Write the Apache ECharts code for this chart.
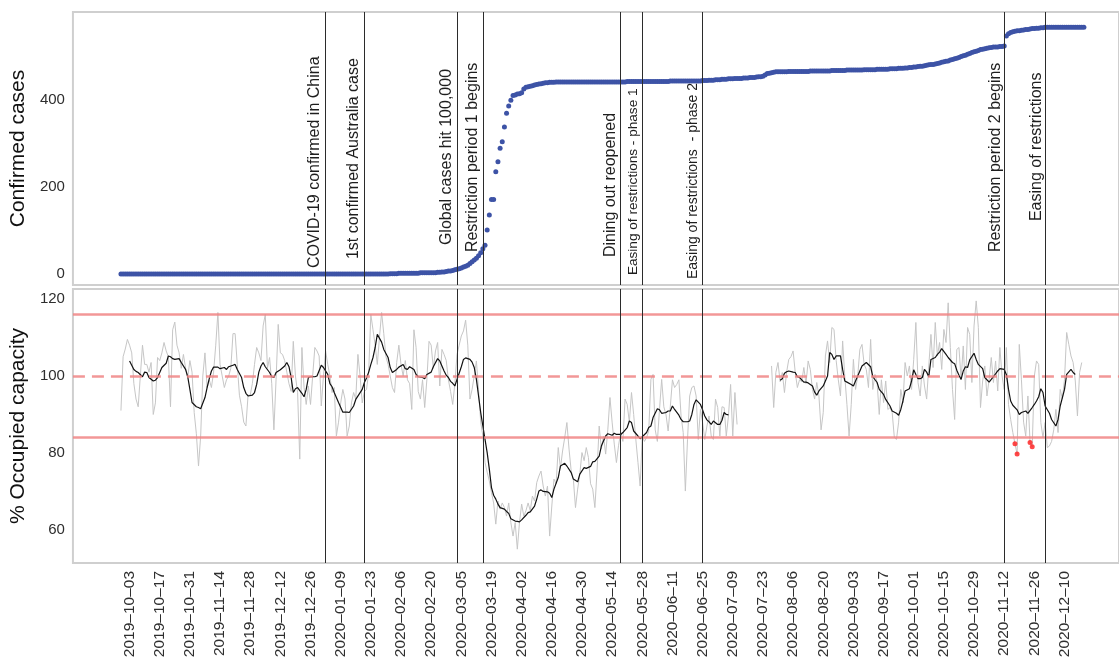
<!DOCTYPE html>
<html>
<head>
<meta charset="utf-8">
<script src="https://cdn.jsdelivr.net/npm/echarts@6/dist/echarts.min.js"></script>
<style>
  html, body { margin: 0; padding: 0; background: #ffffff; }
  #chart { width: 1119px; height: 662px; }
</style>
</head>
<body>
<div id="chart"></div>
<script>
// ---- Data -------------------------------------------------------------

// Daily series start on this date (one value per day).
const seriesStart = '2019-09-29';

// Cumulative confirmed cases, one value per day from seriesStart.
const confirmedCases = [
  0,0,0,0,0,0,0,0,0,0, 0,0,0,0,0,0,0,0,0,0, 0,0,0,0,0,0,0,0,0,0,
  0,0,0,0,0,0,0,0,0,0, 0,0,0,0,0,0,0,0,0,0, 0,0,0,0,0,0,0,0,0,0,
  0,0,0,0,0,0,0,0,0,0, 0,0,0,0,0,0,0,0,0,0, 0,0,0,0,0,0,0,0,0,0,
  0,0,0,0,0,0,0,0,0,0, 0,0,0,0,0,0,0,0,0,0, 0,0,0,0,0,0,0,0,0,0,
  0,0,0,0,0,
  1,1,1,1,2,2,2,2,2,2,2,2,2,2,3,3,3,3,3,3,
  3,3,4,4,5,5,6,7,7,8,
  10,11,12,14,16,18,20,24,28,32,36,42,49,
  58,66,101,135,171,171,234,257,288,303,337,368,385,398,409,410,412,
  413,415,424,428,429,430,431,433,434,435,436,437,438,438,439,439,439,440,440,
  440,440,440,440,440,440,440,440,440,440,440,440,440,440,440,440,440,440,440,440,440,440,440,440,440,440,440,440,440,440,440,
  441,441,441,441,441,441,441,441,441,441,441,441,441,441,441,441,441,441,441,441,
  442,442,442,442,442,442,442,442,442,442,442,442,442,442,442,
  443,443,443,444,444,444,445,445,445,446,446,446,447,447,447,448,448,448,448,449,449,449,450,450,450,
  451,452,452,453,456,459,460,461,462,463,
  463,463,463,463,463,
  464,464,464,464,464,464,464,464,464,464,
  465,465,465,465,465,465,465,465,465,465,
  466,466,466,466,466,466,466,
  467,467,467,467,467,467,467,467,
  468,468,468,468,468,468,
  469,469,469,469,469,469,
  470,470,470,470,
  471,471,471,
  472,
  472,473,473,474,474,475,476,476,477,478,479,480,480,481,482,
  483,485,486,487,488,490,491,493,494,496,498,500,501,503,505,507,509,510,512,514,
  515,516,517,518,519,520,520,520,521,521,
  522,545,550,553,555,556,557,557,558,559,560,560,561,562,562,
  563,563,564,564,565,565,565,565,565,565,565,565,565,565,565,565,565,565,565,565,565,565,565
];

// Daily % occupied capacity from seriesStart (null = no record).
const occupancy = [
  91,105,107,109.5,108,106,98,94,92,100,
  108,103,103,101,103.5,90,93,104.8,104,106,
  108.7,106.5,105,92,112,114,108,106,102,105.6,
  102,99.6,104,101,90.5,85,76.6,84.4,100,106,
  97,99,97,101,108,116.5,103,100,97,99,
  100,102,111,111,103,95,92,88,87,95,
  95,98,103,107.4,106,104,113,116,102,104.8,
  98,86,99,113.4,106,105.6,104,101,98,96,
  109,100,95.7,78.4,107.4,97,92.6,97.4,92.6,100,
  107.4,106.5,105.2,92.2,100,106.5,103,100,95.7,97,
  84.4,88,93,96.5,94,84.4,87,93,95.7,94,
  105.6,100,93,96,96.5,101,116,112,108,103,
  110,116.5,111,105,103,100,97,95.7,103.5,108,
  103,100,104,99,98,91.3,112,107.4,96,94,
  99,91.8,99,109,108,102,106.5,108.7,97.4,106.9,
  105.6,104,99,96,92.6,98,105.6,108,110.4,111.7,
  114.5,108,94,96.5,100,103.9,96.5,88,84.4,77.5,
  75,72.7,69.7,67,61.5,67.5,65.4,67,65.8,63.6,
  67,61.9,58.4,61.9,55,62,66.7,63.6,65,67,
  65,68.8,67.5,72.3,74,75.3,71.4,68.8,71.4,58.4,
  66.2,73.2,72,81.4,76,80.5,84,87.9,81,75.3,
  73.2,65.8,70.6,74.5,80.1,78,81.4,78.8,72,70.6,
  65.8,75.3,87,81,84.4,79.7,86,94.4,88,82.3,
  77.5,82,85.3,83,94,92.6,88,95.7,90,83.5,
  77.5,71.4,84.4,83,84,85.7,99.1,100.4,86,83,
  91.3,99.1,92,90,85.7,92,99,97,97.8,99,
  89.6,85.3,70.1,83.5,94.8,97,97.4,94.8,83.5,91.3,
  87.9,83.5,87,89.6,84.4,83.5,94,91.8,84.4,92,
  91.8,84.4,89.6,97.8,84.4,95.7,87.4,
  null,null,null,null,null,null,null,null,null,null,null,null,null,null,null,
  102.6,91.8,100.9,103.5,98.5,100.9,95.7,101,104.3,105,
  106.5,101,97,99,98.5,102.2,98,103.9,101.7,96.5,
  94,98.3,94.8,86,90.5,105.2,109.1,103.5,112.6,112.1,
  104,99,94.8,109.1,100,92.6,84.4,92.6,104.3,96.5,
  100,106.9,108.2,103,101.7,97,109.5,96.5,100.4,98.3,
  90,99,93.1,98.7,91.3,91.8,90.5,84,83.5,88,
  96.5,93,103.5,100,102.6,96.5,104.3,113.9,98.3,94.8,
  102.6,97.4,94,102.6,110.8,102.2,113.9,105.2,108.7,101.7,
  112.1,108.7,119,107.4,96.5,88.7,106.9,107.4,99.1,107.8,
  96.5,112.6,110.8,98.3,113,119.5,112.6,91.8,98.7,102.6,
  94.8,99.1,104.8,98.3,103.9,96.1,107.4,100,96.5,107.4,
  92.6,88.7,85.3,82.4,79.7,108.2,99,88,84.4,94.8,
  82.7,81.6,100,103.9,103,87.9,84,87.9,81.4,81.8,
  83,86,91.3,85.3,96.5,94,99.1,111.3,108.2,105.2,
  103.5,98.7,89.6,100.9,103.5
];

// Days (counted from seriesStart) whose occupancy fell below the lower limit
// during the second restriction period.
const flaggedDays = [415, 416, 422, 423];

// Smoothed occupancy: [days since trendStart, value]; null marks the gap.
const trendStart = '2019-10-03';
const trendPoints = [
  [0,103.9],[2,101.7],[3,101.2],[4,100.9],[6,99.8],[7,101],[8,100.9],[9,99.6],[11,98.7],[12,98.9],
  [13,99.6],[15,102.2],[17,103.3],[18,105.2],[19,105],[20,104.5],[21,104.3],[23,104.5],[24,103.5],[26,101.7],
  [27,99.8],[28,96.5],[29,93.1],[31,92],[32,91.8],[33,91.5],[35,94.4],[36,97],[37,99.3],[38,101.3],
  [39,102.3],[41,102.3],[42,101.9],[44,102.2],[45,101.7],[46,102.4],[48,102.8],[49,103],[50,101.7],[52,99.6],
  [53,97],[54,95.5],[55,94.8],[57,95],[58,95.7],[59,97.8],[60,101],[61,102.6],[62,103.5],[63,102.4],
  [65,100.9],[66,99.8],[67,99.6],[68,100.9],[70,101.6],[72,102.6],[73,103.5],[74,102.4],[75,99.6],[76,95.7],
  [77,96.7],[78,97],[80,95.5],[81,94.6],[82,96.5],[83,99.6],[84,99.8],[86,99.8],[87,100],[89,102.8],
  [90,102.2],[92,100.4],[93,98],[94,97.2],[95,95.7],[97,93.1],[99,90.6],[101,90.6],[102,90.5],[104,92.2],
  [105,93.9],[108,96.5],[109,98.3],[110,99.5],[111,101],[112,103],[113,104.8],[114,107.4],[115,110.8],[117,108.8],
  [118,106.9],[120,104.8],[121,102.2],[122,100.9],[124,101.7],[125,102.3],[127,103],[128,101.9],[129,101.7],[130,102.4],
  [132,101.7],[133,100.4],[134,99.8],[136,99.6],[137,99.3],[138,100.4],[140,101],[141,102.4],[143,104.5],[144,103.9],
  [145,102.6],[146,101.3],[147,100.2],[148,99.6],[149,98.6],[150,98.1],[151,97.4],[152,99.1],[154,102.4],[155,104.3],
  [156,104.7],[158,104.3],[159,103.6],[160,102.2],[161,99.1],[162,94.8],[163,90.5],[164,87],[165,83.5],[166,80.1],
  [167,75.8],[168,71],[169,69],[170,68],[171,66.7],[172,65.8],[174,65.4],[175,64.8],[176,64.3],[177,62.9],
  [179,62.3],[180,62.2],[181,62.1],[182,62.6],[184,63.8],[185,64.5],[186,64.7],[188,66.2],[189,68],[190,70.1],
  [191,70.4],[192,70],[194,69.9],[195,69.5],[196,68.4],[197,70.6],[199,73.6],[200,76.6],[202,77.3],[203,76.6],
  [205,74.9],[206,73.2],[208,72.5],[209,74.5],[211,76.2],[212,76],[214,76.5],[215,77.7],[216,77.8],[218,79.2],
  [219,81.8],[221,84.4],[222,85],[224,84.6],[225,85.1],[226,84.8],[228,84.8],[229,85.3],[231,86.6],[232,88.3],
  [233,87.9],[234,85.7],[236,84.4],[237,83.7],[238,84.2],[240,85.3],[241,86.6],[242,87],[243,89.2],[245,91.5],
  [246,91.2],[247,90.3],[249,90.5],[250,90.9],[251,90.9],[252,92.2],[253,91.3],[255,89.8],[256,88.7],[257,88.1],
  [259,88.1],[260,88.3],[261,90],[262,92.6],[263,93.8],[265,92.6],[266,91.2],[267,89.6],[268,88.6],[269,88.1],
  [270,87.4],[271,88.3],[273,87.4],[274,87.4],[275,88.5],[276,90.5],[277,90],[278,89.9],
  [290,null],
  [302,98.9],[303,99.3],[304,100.7],[305,101.1],[306,101.3],[308,101],[309,100.9],[310,99.8],[311,99.6],[313,98.4],
  [314,98.4],[315,98.2],[317,97.4],[318,95.8],[319,95],[320,96.1],[322,97.4],[323,98.7],[324,100],[325,106.1],
  [326,105.6],[327,104.3],[328,105.2],[330,105.2],[331,101.7],[332,98.7],[333,98.4],[335,97.8],[336,97.4],[337,98.7],
  [339,101.3],[340,102.6],[342,103.5],[344,102.4],[345,99.8],[347,98.3],[348,96.5],[350,95.2],[351,93.9],[353,92.2],
  [354,90.9],[356,90.3],[357,89.8],[358,91.3],[359,93.5],[360,96.1],[362,96.7],[363,98.7],[364,101.6],[365,100.4],
  [366,99.3],[367,99.3],[368,99.6],[369,101.7],[370,101],[371,99.8],[372,104.3],[374,104.8],[375,105.6],[376,106.2],
  [377,107.1],[379,105.6],[380,104.8],[382,103.5],[383,103.2],[384,101.5],[385,100.2],[386,99.1],[387,101.3],[388,102.4],
  [389,102.2],[390,104.2],[392,105.9],[393,104.3],[394,103],[396,101.9],[397,99.6],[399,98.4],[400,99.1],[401,99.8],
  [403,101.3],[404,101.9],[406,101.7],[407,100.4],[408,96.5],[409,93.5],[410,92.4],[412,91.2],[413,90],[414,90.5],
  [416,90.9],[417,90.3],[419,91.8],[420,92.6],[421,93.5],[422,94.6],[423,96.7],[424,95.7],[425,92.2],[427,90.3],
  [428,88.7],[430,87],[431,88.7],[432,92.2],[434,96.5],[435,100.4],[437,101.7],[438,100.9],[439,100.4]
];

// Control limits for occupancy.
const upperLimit = 116;
const centreLine = 100;
const lowerLimit = 84;

// Key events.
const eventDates = ['2020-01-02', '2020-01-20', '2020-03-03', '2020-03-15', '2020-05-18',
                    '2020-05-28', '2020-06-25', '2020-11-12', '2020-12-01'];
const eventNames = ['COVID-19 confirmed in China', '1st confirmed Australia case',
                    'Global cases hit 100,000', 'Restriction period 1 begins',
                    'Dining out reopened', 'Easing of restrictions - phase 1',
                    'Easing of restrictions  - phase 2', 'Restriction period 2 begins',
                    'Easing of restrictions'];

// Date-axis tick labels (fortnightly).
const tickDates = ['2019-10-03','2019-10-17','2019-10-31','2019-11-14','2019-11-28','2019-12-12','2019-12-26',
                   '2020-01-09','2020-01-23','2020-02-06','2020-02-20','2020-03-05','2020-03-19','2020-04-02',
                   '2020-04-16','2020-04-30','2020-05-14','2020-05-28','2020-06-11','2020-06-25','2020-07-09',
                   '2020-07-23','2020-08-06','2020-08-20','2020-09-03','2020-09-17','2020-10-01','2020-10-15',
                   '2020-10-29','2020-11-12','2020-11-26','2020-12-10'];
const casesTicks = [0, 200, 400];
const occupancyTicks = [60, 80, 100, 120];

// ---- Helpers ----------------------------------------------------------
const DAY = 86400000;
function toTs(s) {
  const p = s.split('-').map(Number);
  return Date.UTC(p[0], p[1] - 1, p[2]);
}
const startTs = toTs(seriesStart);
const trendTs = toTs(trendStart);
function pad(n) { return (n < 10 ? '0' : '') + n; }
function fmtDate(v) {
  const d = new Date(v);
  return d.getUTCFullYear() + '\u2013' + pad(d.getUTCMonth() + 1) + '\u2013' + pad(d.getUTCDate());
}

const FONT = '"Liberation Sans", Arial, Helvetica, sans-serif';

const casesData = confirmedCases.map((v, i) => [startTs + i * DAY, v]);
const occupancyData = occupancy.map((v, i) => [startTs + i * DAY, v]);
const trendData = trendPoints.map(p => [trendTs + p[0] * DAY, p[1]]);
const flaggedData = flaggedDays.map(i => [startTs + i * DAY, occupancy[i]]);
const eventTs = eventDates.map(toTs);

// Visible date range of both panels (ms timestamps on a linear axis).
const xMin = Date.UTC(2019, 8, 6, 17);
const xMax = Date.UTC(2021, 0, 4, 7);

// Event label styling: font size, gap left of the line, rise above zero cases (px).
const eventLabelStyle = [
  { size: 16, gap: 11, rise: 6 },
  { size: 16, gap: 11, rise: 15 },
  { size: 16, gap: 10, rise: 29 },
  { size: 16, gap: 10, rise: 22 },
  { size: 16, gap: 10, rise: 17 },
  { size: 13.6, gap: 9, rise: -1 },
  { size: 14, gap: 9, rise: -5 },
  { size: 16, gap: 9, rise: 22 },
  { size: 16, gap: 9, rise: 53 }
];

function eventLine() {
  return {
    silent: true,
    symbol: ['none', 'none'],
    label: { show: false },
    lineStyle: { color: '#2b2b2b', width: 1, type: 'solid' },
    emphasis: { disabled: true },
    animation: false,
    data: eventTs.map(t => ({ xAxis: t }))
  };
}

function makeXAxis(gridIndex, showLabels) {
  return {
    type: 'value',
    gridIndex: gridIndex,
    min: xMin,
    max: xMax,
    scale: true,
    axisLine: { show: false },
    axisTick: { show: false },
    splitLine: { show: false },
    axisLabel: {
      show: showLabels,
      customValues: tickDates.map(toTs),
      rotate: 90,
      margin: 8,
      fontSize: 15.5,
      color: '#2e2e2e',
      fontFamily: FONT,
      formatter: fmtDate,
      hideOverlap: false
    }
  };
}

const option = {
  animation: false,
  backgroundColor: '#ffffff',
  textStyle: { fontFamily: FONT },
  grid: [
    { left: 70, right: -2, top: 12, height: 273, show: true, borderColor: '#cfcfcf', borderWidth: 2, backgroundColor: 'transparent' },
    { left: 70, right: -2, top: 289, height: 274, show: true, borderColor: '#cfcfcf', borderWidth: 2, backgroundColor: 'transparent' }
  ],
  xAxis: [makeXAxis(0, false), makeXAxis(1, true)],
  yAxis: [
    {
      type: 'value', gridIndex: 0, min: -25, max: 600,
      name: 'Confirmed cases', nameLocation: 'middle', nameGap: 35,
      nameTextStyle: { fontSize: 21, color: '#111111', fontFamily: FONT },
      axisLine: { show: false }, axisTick: { show: false }, splitLine: { show: false },
      axisLabel: { customValues: casesTicks, fontSize: 15, color: '#2e2e2e', margin: 8, fontFamily: FONT }
    },
    {
      type: 'value', gridIndex: 1, min: 51.4, max: 122.6,
      name: '% Occupied capacity', nameLocation: 'middle', nameGap: 35,
      nameTextStyle: { fontSize: 21, color: '#111111', fontFamily: FONT },
      axisLine: { show: false }, axisTick: { show: false }, splitLine: { show: false },
      axisLabel: { customValues: occupancyTicks, fontSize: 15, color: '#2e2e2e', margin: 8, fontFamily: FONT }
    }
  ],
  series: [
    {
      name: 'Confirmed cases',
      type: 'scatter',
      xAxisIndex: 0, yAxisIndex: 0,
      data: casesData,
      symbolSize: 5,
      itemStyle: { color: '#3d53a6', opacity: 1 },
      markLine: eventLine(),
      z: 2
    },
    {
      name: 'Daily occupancy',
      type: 'line',
      xAxisIndex: 1, yAxisIndex: 1,
      data: occupancyData,
      showSymbol: false,
      connectNulls: false,
      lineStyle: { color: '#c6c6c6', width: 1 },
      markLine: {
        silent: true,
        symbol: ['none', 'none'],
        label: { show: false },
        emphasis: { disabled: true },
        lineStyle: { color: '#f08585', width: 2.5, opacity: 0.85, type: 'solid' },
        data: [
          { yAxis: upperLimit },
          { yAxis: centreLine, lineStyle: { type: [12, 7] } },
          { yAxis: lowerLimit }
        ]
      },
      z: 2
    },
    {
      name: 'Smoothed occupancy',
      type: 'line',
      xAxisIndex: 1, yAxisIndex: 1,
      data: trendData,
      showSymbol: false,
      connectNulls: false,
      lineStyle: { color: '#111111', width: 1.2 },
      markLine: eventLine(),
      z: 3
    },
    {
      name: 'Below lower limit',
      type: 'scatter',
      xAxisIndex: 1, yAxisIndex: 1,
      data: flaggedData,
      symbolSize: 5,
      itemStyle: { color: '#ff1a1a' },
      z: 4
    }
  ]
};

const chart = echarts.init(document.getElementById('chart'), null, { renderer: 'canvas' });
chart.setOption(option);

// Rotated event labels, anchored to each event date on the cases panel.
const labels = eventNames.map((name, i) => {
  const pt = chart.convertToPixel({ xAxisIndex: 0, yAxisIndex: 0 }, [eventTs[i], 0]);
  const s = eventLabelStyle[i];
  return {
    type: 'text',
    x: pt[0] - s.gap,
    y: pt[1] - s.rise,
    rotation: Math.PI / 2,
    silent: true,
    z: 100,
    style: {
      text: name,
      fontSize: s.size,
      fontFamily: FONT,
      fill: '#1e1e1e',
      align: 'left',
      verticalAlign: 'middle'
    }
  };
});
chart.setOption({ graphic: labels });
</script>
</body>
</html>
